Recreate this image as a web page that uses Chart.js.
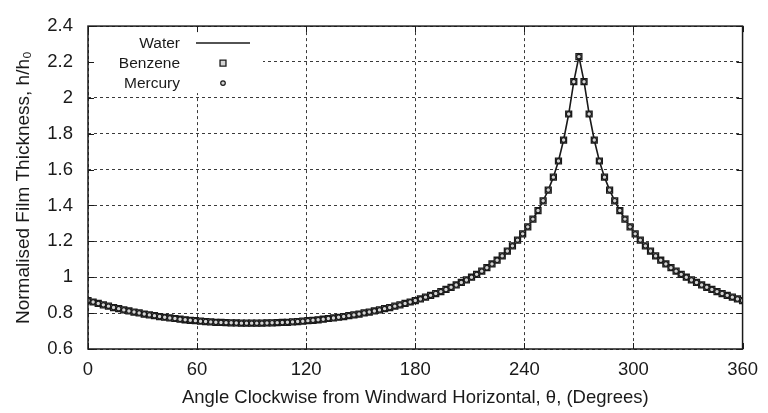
<!DOCTYPE html>
<html>
<head>
<meta charset="utf-8">
<script src="https://cdn.jsdelivr.net/npm/chart.js@4.4.0/dist/chart.umd.min.js"></script>
<style>
  html, body { margin: 0; padding: 0; background: #fff; }
</style>
</head>
<body>
<canvas id="chart" width="768" height="413"></canvas>
<script>
// angle round the cylinder, degrees (128 steps)
const thetaDeg = [
  0, 2.8125, 5.625, 8.4375, 11.25, 14.0625, 16.875, 19.6875, 22.5, 25.3125, 28.125, 30.9375, 33.75, 36.5625, 39.375, 42.1875,
  45, 47.8125, 50.625, 53.4375, 56.25, 59.0625, 61.875, 64.6875, 67.5, 70.3125, 73.125, 75.9375, 78.75, 81.5625, 84.375, 87.1875,
  90, 92.8125, 95.625, 98.4375, 101.25, 104.0625, 106.875, 109.6875, 112.5, 115.3125, 118.125, 120.9375, 123.75, 126.5625, 129.375, 132.1875,
  135, 137.8125, 140.625, 143.4375, 146.25, 149.0625, 151.875, 154.6875, 157.5, 160.3125, 163.125, 165.9375, 168.75, 171.5625, 174.375, 177.1875,
  180, 182.8125, 185.625, 188.4375, 191.25, 194.0625, 196.875, 199.6875, 202.5, 205.3125, 208.125, 210.9375, 213.75, 216.5625, 219.375, 222.1875,
  225, 227.8125, 230.625, 233.4375, 236.25, 239.0625, 241.875, 244.6875, 247.5, 250.3125, 253.125, 255.9375, 258.75, 261.5625, 264.375, 267.1875,
  270, 272.8125, 275.625, 278.4375, 281.25, 284.0625, 286.875, 289.6875, 292.5, 295.3125, 298.125, 300.9375, 303.75, 306.5625, 309.375, 312.1875,
  315, 317.8125, 320.625, 323.4375, 326.25, 329.0625, 331.875, 334.6875, 337.5, 340.3125, 343.125, 345.9375, 348.75, 351.5625, 354.375, 357.1875,
  360
];

// normalised film thickness h/h0
const waterH = [
  0.870, 0.862, 0.854, 0.846, 0.839, 0.831, 0.825, 0.818, 0.812, 0.806, 0.801, 0.795, 0.790, 0.786, 0.781, 0.777,
  0.773, 0.770, 0.766, 0.763, 0.760, 0.758, 0.755, 0.753, 0.751, 0.749, 0.748, 0.747, 0.746, 0.745, 0.744, 0.744,
  0.744, 0.744, 0.744, 0.745, 0.746, 0.747, 0.748, 0.749, 0.751, 0.753, 0.755, 0.758, 0.760, 0.763, 0.766, 0.770,
  0.773, 0.777, 0.781, 0.786, 0.790, 0.795, 0.801, 0.806, 0.812, 0.818, 0.825, 0.831, 0.839, 0.846, 0.854, 0.862,
  0.870, 0.879, 0.889, 0.899, 0.909, 0.920, 0.932, 0.944, 0.957, 0.971, 0.985, 1.000, 1.016, 1.034, 1.053, 1.074,
  1.095, 1.119, 1.146, 1.175, 1.207, 1.242, 1.281, 1.324, 1.372, 1.426, 1.486, 1.558, 1.648, 1.765, 1.910, 2.090,
  2.230, 2.090, 1.910, 1.765, 1.648, 1.558, 1.486, 1.426, 1.372, 1.324, 1.281, 1.242, 1.207, 1.175, 1.146, 1.119,
  1.095, 1.074, 1.053, 1.034, 1.016, 1.000, 0.985, 0.971, 0.957, 0.944, 0.932, 0.920, 0.909, 0.899, 0.889, 0.879,
  0.870
];
// the three liquids fall on the same curve in the figure
const benzeneH = waterH.slice();
const mercuryH = waterH.slice();

const seriesNames = ['Water', 'Benzene', 'Mercury'];

const FONT = 'Liberation Sans, Arial, Helvetica, sans-serif';
const INK = '#1a1a1a';

function toPoints(ys) {
  return thetaDeg.map((t, i) => ({ x: t, y: ys[i] }));
}

const benzeneStyle = { pointStyle: 'rect', radius: 4.2, borderWidth: 1.3, rotation: 0 };
const mercuryStyle = { pointStyle: 'circle', radius: 2.3, borderWidth: 1.2, rotation: 0 };

// box round the plot, inward tick marks and the key in the top left corner
const framePlugin = {
  id: 'frame',
  afterDraw(chart) {
    const { ctx, chartArea: a, scales: { x, y } } = chart;
    ctx.save();

    // key background hides the grid there
    ctx.fillStyle = '#fff';
    ctx.fillRect(a.left + 1, a.top + 1, 174, 66);

    ctx.strokeStyle = INK;
    ctx.lineWidth = 1;
    ctx.setLineDash([]);
    const tl = 6;
    ctx.beginPath();
    x.ticks.forEach(t => {
      const px = Math.round(x.getPixelForValue(t.value)) + 0.5;
      ctx.moveTo(px, a.bottom); ctx.lineTo(px, a.bottom - tl);
      ctx.moveTo(px, a.top); ctx.lineTo(px, a.top + tl);
    });
    y.ticks.forEach(t => {
      const py = Math.round(y.getPixelForValue(t.value)) + 0.5;
      ctx.moveTo(a.left, py); ctx.lineTo(a.left + tl, py);
      ctx.moveTo(a.right, py); ctx.lineTo(a.right - tl, py);
    });
    ctx.stroke();

    ctx.lineWidth = 1.5;
    ctx.strokeRect(a.left, a.top, a.right - a.left, a.bottom - a.top);

    // key
    ctx.font = '15.5px ' + FONT;
    ctx.fillStyle = INK;
    ctx.textAlign = 'right';
    ctx.textBaseline = 'middle';
    const tx = a.left + 92, sx = a.left + 135;
    const rows = [a.top + 17, a.top + 37, a.top + 57];
    seriesNames.forEach((name, i) => ctx.fillText(name, tx, rows[i] + 1));

    ctx.lineWidth = 1.5;
    ctx.beginPath();
    ctx.moveTo(a.left + 108, rows[0]);
    ctx.lineTo(a.left + 162, rows[0]);
    ctx.stroke();

    ctx.fillStyle = '#d4d4d4';
    ctx.strokeStyle = INK;
    ctx.lineWidth = benzeneStyle.borderWidth;
    Chart.helpers.drawPoint(ctx, benzeneStyle, sx, rows[1]);
    ctx.lineWidth = mercuryStyle.borderWidth;
    Chart.helpers.drawPoint(ctx, mercuryStyle, sx, rows[2]);

    ctx.restore();
  }
};

new Chart(document.getElementById('chart').getContext('2d'), {
  type: 'scatter',
  data: {
    datasets: [
      {
        label: seriesNames[0],
        data: toPoints(waterH),
        showLine: true,
        borderColor: INK,
        borderWidth: 1.6,
        pointRadius: 0,
        tension: 0,
        order: 3
      },
      {
        label: seriesNames[1],
        data: toPoints(benzeneH),
        showLine: false,
        pointStyle: 'rect',
        pointRadius: benzeneStyle.radius,
        pointBorderWidth: benzeneStyle.borderWidth,
        pointBorderColor: INK,
        pointBackgroundColor: '#d4d4d4',
        order: 2
      },
      {
        label: seriesNames[2],
        data: toPoints(mercuryH),
        showLine: false,
        pointStyle: 'circle',
        pointRadius: mercuryStyle.radius,
        pointBorderWidth: mercuryStyle.borderWidth,
        pointBorderColor: INK,
        pointBackgroundColor: '#d4d4d4',
        order: 1
      }
    ]
  },
  options: {
    responsive: false,
    animation: false,
    devicePixelRatio: 1,
    layout: { padding: { left: 0, right: 20, top: 15, bottom: 0 } },
    plugins: {
      legend: { display: false },
      tooltip: { enabled: false }
    },
    scales: {
      x: {
        type: 'linear',
        min: 0,
        max: 360,
        afterFit(scale) { scale.height = 64; },
        ticks: {
          stepSize: 60,
          maxRotation: 0,
          padding: 10,
          color: INK,
          font: { family: FONT, size: 18.5 }
        },
        grid: { color: '#3a3a3a', lineWidth: 1, drawTicks: false },
        border: { display: false, dash: [3, 3] },
        title: {
          display: true,
          text: 'Angle Clockwise from Windward Horizontal, \u03B8, (Degrees)',
          color: INK,
          font: { family: FONT, size: 18.5 },
          padding: { top: 0, bottom: 4 }
        }
      },
      y: {
        type: 'linear',
        min: 0.6,
        max: 2.4,
        afterFit(scale) { scale.width = 88; },
        ticks: {
          stepSize: 0.2,
          padding: 15,
          color: INK,
          font: { family: FONT, size: 18.5 },
          callback: v => String(Number(v.toFixed(1)))
        },
        grid: { color: '#3a3a3a', lineWidth: 1, drawTicks: false },
        border: { display: false, dash: [3, 3] },
        title: {
          display: true,
          text: 'Normalised Film Thickness, h/h\u2080',
          color: INK,
          font: { family: FONT, size: 19 },
          padding: { top: 12, bottom: 0 }
        }
      }
    }
  },
  plugins: [framePlugin]
});
</script>
</body>
</html>
